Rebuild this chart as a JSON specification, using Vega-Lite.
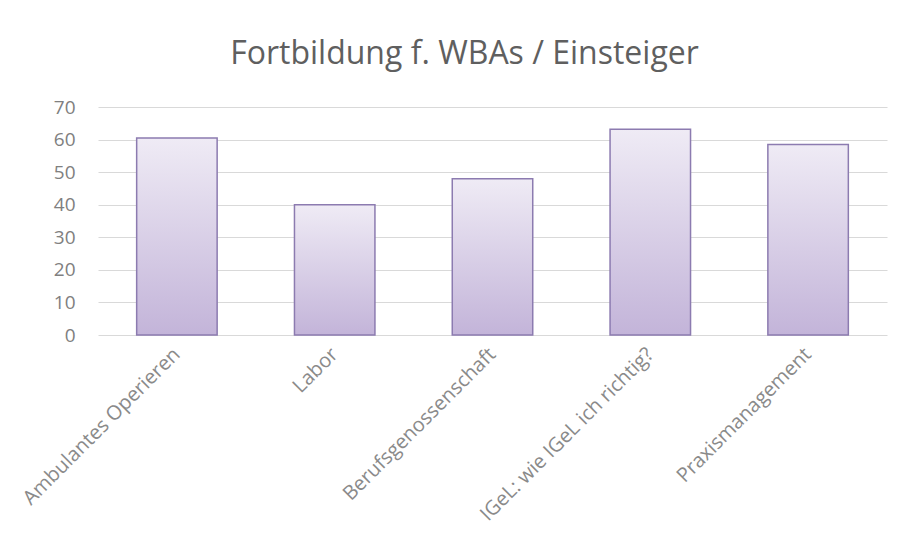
{
  "$schema": "https://vega.github.io/schema/vega-lite/v6.json",
  "width": 789,
  "height": 228,
  "autosize": {"type": "none"},
  "padding": {"left": 98, "top": 107, "right": 24, "bottom": 216},
  "background": "white",
  "title": {
    "text": "Fortbildung f. WBAs / Einsteiger",
    "font": "Open Sans",
    "fontSize": 32,
    "fontWeight": "normal",
    "color": "#5f5f5f",
    "anchor": "middle",
    "dx": -28,
    "offset": 27
  },
  "data": {
    "values": [
      {"thema": "Ambulantes Operieren", "wert": 60.5},
      {"thema": "Labor", "wert": 40},
      {"thema": "Berufsgenossenschaft", "wert": 48},
      {"thema": "IGeL: wie IGeL ich richtig?", "wert": 63.2},
      {"thema": "Praxismanagement", "wert": 58.5}
    ]
  },
  "mark": {
    "type": "bar",
    "stroke": "#8c7bb0",
    "strokeWidth": 1.5,
    "fill": {
      "gradient": "linear",
      "x1": 0, "y1": 0, "x2": 0, "y2": 1,
      "stops": [
        {"offset": 0, "color": "#efebf5"},
        {"offset": 1, "color": "#c3b4d9"}
      ]
    }
  },
  "encoding": {
    "x": {
      "field": "thema",
      "type": "nominal",
      "sort": null,
      "scale": {"paddingInner": 0.49, "paddingOuter": 0.245},
      "axis": {
        "title": null,
        "labelAngle": -45,
        "labelAlign": "right",
        "labelBaseline": "middle",
        "labelFont": "Open Sans",
        "labelFontSize": 20,
        "labelColor": "#8a8a8a",
        "labelPadding": 16,
        "ticks": false,
        "domain": false,
        "labelLimit": 400
      }
    },
    "y": {
      "field": "wert",
      "type": "quantitative",
      "scale": {"domain": [0, 70]},
      "axis": {
        "title": null,
        "values": [0, 10, 20, 30, 40, 50, 60, 70],
        "labelFont": "Open Sans",
        "labelFontSize": 19,
        "labelColor": "#808080",
        "labelPadding": 23,
        "ticks": false,
        "domain": false,
        "gridColor": "#d9d9d9",
        "gridWidth": 1
      }
    }
  },
  "config": {
    "view": {"stroke": null}
  }
}
